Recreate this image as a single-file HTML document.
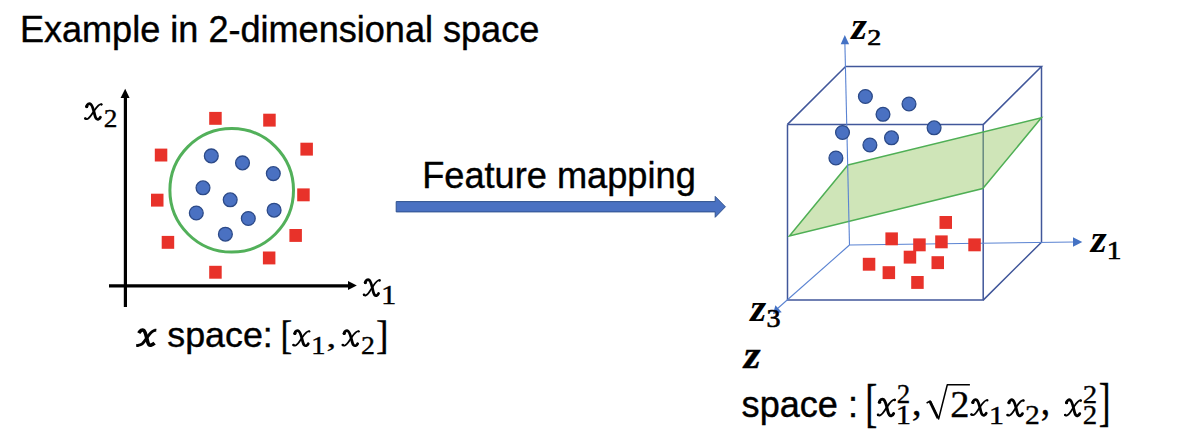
<!DOCTYPE html>
<html><head><meta charset="utf-8">
<style>
html,body{margin:0;padding:0;background:#fff;width:1194px;height:438px;overflow:hidden}
svg{position:absolute;left:0;top:0}
.s{font-family:"Liberation Sans",sans-serif}
.m{font-family:"Liberation Serif",serif}
</style></head><body>
<svg width="1194" height="438" viewBox="0 0 1194 438">
<text class="s" x="19.9" y="42.2" font-size="36.1" fill="#000" stroke="#000" stroke-width="0.4">Example in 2-dimensional space</text>

<line x1="125.4" y1="96" x2="125.4" y2="307" stroke="#000" stroke-width="3.2"/>
<polygon points="125.2,88.8 120.6,97.9 129.6,97.9" fill="#000"/>
<line x1="109" y1="285.9" x2="350" y2="285.9" stroke="#000" stroke-width="3.2"/>
<polygon points="356.8,285.6 348,281.1 348,290.1" fill="#000"/>

<circle cx="231.7" cy="190.3" r="61.8" fill="none" stroke="#52B05A" stroke-width="3"/>
<g fill="#E8322A">
<rect x="209.2" y="111.9" width="12.5" height="12.9"/>
<rect x="154.8" y="148.6" width="12.5" height="12.9"/>
<rect x="263.2" y="113.7" width="12.5" height="12.9"/>
<rect x="300.4" y="142.7" width="12.5" height="12.9"/>
<rect x="297.2" y="188.4" width="12.5" height="12.9"/>
<rect x="151.0" y="193.7" width="12.5" height="12.9"/>
<rect x="161.7" y="235.9" width="12.5" height="12.9"/>
<rect x="209.2" y="265.8" width="12.5" height="12.9"/>
<rect x="289.4" y="229.0" width="12.5" height="12.9"/>
<rect x="262.9" y="251.5" width="12.5" height="12.9"/>
</g>
<g fill="#4A71C2" stroke="#2C4A88" stroke-width="1.3">
<circle cx="211.3" cy="155.9" r="6.9"/>
<circle cx="242.5" cy="162.9" r="6.9"/>
<circle cx="273.3" cy="173.6" r="6.9"/>
<circle cx="203.0" cy="187.8" r="6.9"/>
<circle cx="230.2" cy="199.8" r="6.9"/>
<circle cx="196.3" cy="213.0" r="6.9"/>
<circle cx="225.4" cy="234.2" r="6.9"/>
<circle cx="248.3" cy="218.5" r="6.9"/>
<circle cx="274.1" cy="210.2" r="6.9"/>
</g>

<text class="s" x="167.3" y="346.8" font-size="35.8" stroke="#000" stroke-width="0.4">space:</text>

<text class="s" x="422.2" y="188.1" font-size="36.2" stroke="#000" stroke-width="0.4">Feature mapping</text>
<polygon points="396.2,201.6 715.2,201.6 715.2,196.4 725.4,206.8 715.2,217.3 715.2,211.9 396.2,211.9" fill="#4A71C2" stroke="#2F528F" stroke-width="1"/>

<g fill="none" stroke="#41579A" stroke-width="1.5">
<polyline points="787.5,124.4 983.2,124.6 983.2,300.1 787.5,300.1 787.5,124.4"/>
<polyline points="787.5,124.4 845.6,66.5 1041.5,66.5 983.2,124.6"/>
<polyline points="1041.5,66.5 1041.5,242.2 983.2,300.1"/>
</g>
<polygon points="847.9,164.9 1041.4,117.8 982.8,188.6 789.4,236.1" fill="rgb(148,197,97)" fill-opacity="0.45" stroke="#4FAF55" stroke-width="1.5"/>
<g stroke="#5A83D2" stroke-width="1.1" fill="none">
<line x1="844.9" y1="44" x2="849.5" y2="245"/>
<line x1="849.5" y1="245" x2="1074" y2="242"/>
<line x1="849.5" y1="245" x2="777" y2="309"/>
</g>
<polygon points="844.8,35.0 840.7,44.3 849.1,44.3" fill="#4472C4"/>
<polygon points="1082.3,242 1073,237.2 1073,246.8" fill="#4472C4"/>
<polygon points="773,314 775.4,305.2 781.7,312.2" fill="#4472C4"/>

<g fill="#4A71C2" stroke="#2C4A88" stroke-width="1.3">
<circle cx="865.4" cy="96.5" r="6.9"/>
<circle cx="883.0" cy="114.3" r="6.9"/>
<circle cx="909.0" cy="104.0" r="6.9"/>
<circle cx="842.5" cy="132.5" r="6.9"/>
<circle cx="934.1" cy="127.8" r="6.9"/>
<circle cx="891.5" cy="137.8" r="6.9"/>
<circle cx="869.9" cy="145.0" r="6.9"/>
<circle cx="835.9" cy="158.0" r="6.9"/>
</g>
<g fill="#E8322A">
<rect x="939.5" y="216.0" width="12.5" height="12.9"/>
<rect x="885.4" y="232.4" width="12.5" height="12.9"/>
<rect x="913.2" y="238.4" width="12.5" height="12.9"/>
<rect x="935.2" y="235.4" width="12.5" height="12.9"/>
<rect x="968.3" y="238.4" width="12.5" height="12.9"/>
<rect x="903.7" y="250.7" width="12.5" height="12.9"/>
<rect x="931.5" y="256.2" width="12.5" height="12.9"/>
<rect x="862.8" y="257.8" width="12.5" height="12.9"/>
<rect x="882.6" y="266.2" width="12.5" height="12.9"/>
<rect x="911.2" y="276.0" width="12.5" height="12.9"/>
</g>

<text class="s" x="741.6" y="416.8" font-size="36.1" stroke="#000" stroke-width="0.4">space :</text>
<path d="M926.6,403.0 L930.3,401.0 L938.6,419.0 L947.3,384.7 L969.9,384.7" fill="none" stroke="#000" stroke-width="1.5" stroke-linejoin="round"/><path d="M930.0,401.6 L938.0,418.2" fill="none" stroke="#000" stroke-width="2.8"/>

<g transform="matrix(1.01928 0 0 0.98919 81.042 99.235)" fill="none" stroke="#000" stroke-linecap="round"><path d="M5.5,7.4 C5.9,5.0 8.1,3.9 9.6,5.1 C11.4,6.6 12.6,12 13.6,16.5 C14.3,19.4 15.5,20.7 17.0,20.2 C18.0,19.9 18.7,18.9 19.0,18.2" stroke-width="2.8"/><path d="M20.2,5.1 C18.3,4.5 16.2,6.8 13.2,11.2 C10.5,15.2 8.4,19.7 5.8,20.1 C4.9,20.2 4.3,19.9 3.9,19.4" stroke-width="1.8"/><circle cx="5.6" cy="7.4" r="1.6" fill="#000" stroke="none"/><circle cx="20.0" cy="5.4" r="1.15" fill="#000" stroke="none"/><circle cx="4.3" cy="19.5" r="1.25" fill="#000" stroke="none"/></g>
<text class="m"  font-size="200" stroke="#000" stroke-width="2.67" transform="matrix(0.13688 0 0 0.12538 103.743 127.325)">2</text>
<g transform="matrix(0.98623 0 0 1.01622 359.841 275.048)" fill="none" stroke="#000" stroke-linecap="round"><path d="M5.5,7.4 C5.9,5.0 8.1,3.9 9.6,5.1 C11.4,6.6 12.6,12 13.6,16.5 C14.3,19.4 15.5,20.7 17.0,20.2 C18.0,19.9 18.7,18.9 19.0,18.2" stroke-width="2.8"/><path d="M20.2,5.1 C18.3,4.5 16.2,6.8 13.2,11.2 C10.5,15.2 8.4,19.7 5.8,20.1 C4.9,20.2 4.3,19.9 3.9,19.4" stroke-width="1.8"/><circle cx="5.6" cy="7.4" r="1.6" fill="#000" stroke="none"/><circle cx="20.0" cy="5.4" r="1.15" fill="#000" stroke="none"/><circle cx="4.3" cy="19.5" r="1.25" fill="#000" stroke="none"/></g>
<text class="m"  font-size="200" stroke="#000" stroke-width="2.45" transform="matrix(0.15357 0 0 0.13168 381.111 303.725)">1</text>
<g transform="matrix(0.99015 0 0 0.98429 133.033 325.444)" fill="none" stroke="#000"><path d="M5.8,7.8 C7.2,5.2 9.3,3.9 10.9,5.0 C12.6,6.4 13.6,12 14.8,16.5 C15.5,19.2 16.6,20.4 18.0,20.1 C19.3,19.8 20.6,19.0 21.8,18.0" stroke-width="3.6"/><path d="M23.2,5.0 C20.8,4.6 18.5,6.5 16.2,9.5 C13.5,13.0 11.4,16.8 9.2,18.7 C7.5,20.1 5.5,20.0 3.6,20.4" stroke-width="2.9"/><path d="M21.6,3.4 L23.6,3.4 L23.3,7.0 Z" fill="#000" stroke="none"/><path d="M3.3,18.6 L3.3,22.0 L6.0,21.6 Z" fill="#000" stroke="none"/></g>
<text class="m"  font-size="200" stroke="#000" stroke-width="1.84" transform="matrix(0.17614 0 0 0.20333 280.533 349.235)">[</text>
<g transform="matrix(0.99725 0 0 0.95676 289.308 326.338)" fill="none" stroke="#000" stroke-linecap="round"><path d="M5.5,7.4 C5.9,5.0 8.1,3.9 9.6,5.1 C11.4,6.6 12.6,12 13.6,16.5 C14.3,19.4 15.5,20.7 17.0,20.2 C18.0,19.9 18.7,18.9 19.0,18.2" stroke-width="2.8"/><path d="M20.2,5.1 C18.3,4.5 16.2,6.8 13.2,11.2 C10.5,15.2 8.4,19.7 5.8,20.1 C4.9,20.2 4.3,19.9 3.9,19.4" stroke-width="1.8"/><circle cx="5.6" cy="7.4" r="1.6" fill="#000" stroke="none"/><circle cx="20.0" cy="5.4" r="1.15" fill="#000" stroke="none"/><circle cx="4.3" cy="19.5" r="1.25" fill="#000" stroke="none"/></g>
<text class="m"  font-size="200" stroke="#000" stroke-width="2.57" transform="matrix(0.14643 0 0 0.12634 311.039 353.825)">1</text>
<text class="m"  font-size="200" stroke="#000" stroke-width="2.15" transform="matrix(0.19138 0 0 0.13431 326.544 347.296)">,</text>
<g transform="matrix(1.00275 0 0 0.95676 338.592 326.338)" fill="none" stroke="#000" stroke-linecap="round"><path d="M5.5,7.4 C5.9,5.0 8.1,3.9 9.6,5.1 C11.4,6.6 12.6,12 13.6,16.5 C14.3,19.4 15.5,20.7 17.0,20.2 C18.0,19.9 18.7,18.9 19.0,18.2" stroke-width="2.8"/><path d="M20.2,5.1 C18.3,4.5 16.2,6.8 13.2,11.2 C10.5,15.2 8.4,19.7 5.8,20.1 C4.9,20.2 4.3,19.9 3.9,19.4" stroke-width="1.8"/><circle cx="5.6" cy="7.4" r="1.6" fill="#000" stroke="none"/><circle cx="20.0" cy="5.4" r="1.15" fill="#000" stroke="none"/><circle cx="4.3" cy="19.5" r="1.25" fill="#000" stroke="none"/></g>
<text class="m"  font-size="200" stroke="#000" stroke-width="2.63" transform="matrix(0.13937 0 0 0.12689 361.021 354.025)">2</text>
<text class="m"  font-size="200" stroke="#000" stroke-width="1.79" transform="matrix(0.18778 0 0 0.20333 376.061 349.235)">]</text>
<text class="m" font-style="italic" font-weight="bold" font-size="200" stroke="#000" stroke-width="0.00" transform="matrix(0.20181 0 0 0.19130 851.161 38.800)">z</text>
<text class="m"  font-size="200" stroke="#000" stroke-width="5.42" transform="matrix(0.14000 0 0 0.11818 867.290 45.350)">2</text>
<text class="m" font-style="italic" font-weight="bold" font-size="200" stroke="#000" stroke-width="0.00" transform="matrix(0.20482 0 0 0.19022 1090.629 252.000)">z</text>
<text class="m"  font-size="200" stroke="#000" stroke-width="5.16" transform="matrix(0.14714 0 0 0.12443 1106.701 258.650)">1</text>
<text class="m" font-style="italic" font-weight="bold" font-size="200" stroke="#000" stroke-width="0.00" transform="matrix(0.20482 0 0 0.19348 750.329 321.200)">z</text>
<text class="m"  font-size="200" stroke="#000" stroke-width="5.23" transform="matrix(0.14024 0 0 0.12761 766.548 327.495)">3</text>
<text class="m" font-style="italic" font-weight="bold" font-size="200" stroke="#000" stroke-width="1.71" transform="matrix(0.21627 0 0 0.19293 743.673 367.725)">z</text>
<text class="m"  font-size="200" stroke="#000" stroke-width="1.56" transform="matrix(0.18068 0 0 0.26697 865.365 420.517)">[</text>
<g transform="matrix(1.05234 0 0 1.05405 873.643 394.327)" fill="none" stroke="#000" stroke-linecap="round"><path d="M5.5,7.4 C5.9,5.0 8.1,3.9 9.6,5.1 C11.4,6.6 12.6,12 13.6,16.5 C14.3,19.4 15.5,20.7 17.0,20.2 C18.0,19.9 18.7,18.9 19.0,18.2" stroke-width="2.8"/><path d="M20.2,5.1 C18.3,4.5 16.2,6.8 13.2,11.2 C10.5,15.2 8.4,19.7 5.8,20.1 C4.9,20.2 4.3,19.9 3.9,19.4" stroke-width="1.8"/><circle cx="5.6" cy="7.4" r="1.6" fill="#000" stroke="none"/><circle cx="20.0" cy="5.4" r="1.15" fill="#000" stroke="none"/><circle cx="4.3" cy="19.5" r="1.25" fill="#000" stroke="none"/></g>
<text class="m"  font-size="200" stroke="#000" stroke-width="2.63" transform="matrix(0.13438 0 0 0.13144 896.766 403.125)">2</text>
<text class="m"  font-size="200" stroke="#000" stroke-width="2.45" transform="matrix(0.15357 0 0 0.13168 895.811 424.425)">1</text>
<text class="m"  font-size="200" stroke="#000" stroke-width="1.79" transform="matrix(0.19828 0 0 0.19314 911.789 414.931)">,</text>
<text class="m"  font-size="200" stroke="#000" stroke-width="1.82" transform="matrix(0.19188 0 0 0.19356 950.248 416.525)">2</text>
<g transform="matrix(0.99725 0 0 1.00000 967.308 395.000)" fill="none" stroke="#000" stroke-linecap="round"><path d="M5.5,7.4 C5.9,5.0 8.1,3.9 9.6,5.1 C11.4,6.6 12.6,12 13.6,16.5 C14.3,19.4 15.5,20.7 17.0,20.2 C18.0,19.9 18.7,18.9 19.0,18.2" stroke-width="2.8"/><path d="M20.2,5.1 C18.3,4.5 16.2,6.8 13.2,11.2 C10.5,15.2 8.4,19.7 5.8,20.1 C4.9,20.2 4.3,19.9 3.9,19.4" stroke-width="1.8"/><circle cx="5.6" cy="7.4" r="1.6" fill="#000" stroke="none"/><circle cx="20.0" cy="5.4" r="1.15" fill="#000" stroke="none"/><circle cx="4.3" cy="19.5" r="1.25" fill="#000" stroke="none"/></g>
<text class="m"  font-size="200" stroke="#000" stroke-width="2.46" transform="matrix(0.15357 0 0 0.13092 988.711 424.125)">1</text>
<g transform="matrix(1.00275 0 0 1.01622 1003.392 395.148)" fill="none" stroke="#000" stroke-linecap="round"><path d="M5.5,7.4 C5.9,5.0 8.1,3.9 9.6,5.1 C11.4,6.6 12.6,12 13.6,16.5 C14.3,19.4 15.5,20.7 17.0,20.2 C18.0,19.9 18.7,18.9 19.0,18.2" stroke-width="2.8"/><path d="M20.2,5.1 C18.3,4.5 16.2,6.8 13.2,11.2 C10.5,15.2 8.4,19.7 5.8,20.1 C4.9,20.2 4.3,19.9 3.9,19.4" stroke-width="1.8"/><circle cx="5.6" cy="7.4" r="1.6" fill="#000" stroke="none"/><circle cx="20.0" cy="5.4" r="1.15" fill="#000" stroke="none"/><circle cx="4.3" cy="19.5" r="1.25" fill="#000" stroke="none"/></g>
<text class="m"  font-size="200" stroke="#000" stroke-width="2.47" transform="matrix(0.14813 0 0 0.13523 1025.042 424.425)">2</text>
<text class="m"  font-size="200" stroke="#000" stroke-width="1.77" transform="matrix(0.18793 0 0 0.20686 1040.872 414.419)">,</text>
<g transform="matrix(0.98623 0 0 1.01622 1061.041 395.148)" fill="none" stroke="#000" stroke-linecap="round"><path d="M5.5,7.4 C5.9,5.0 8.1,3.9 9.6,5.1 C11.4,6.6 12.6,12 13.6,16.5 C14.3,19.4 15.5,20.7 17.0,20.2 C18.0,19.9 18.7,18.9 19.0,18.2" stroke-width="2.8"/><path d="M20.2,5.1 C18.3,4.5 16.2,6.8 13.2,11.2 C10.5,15.2 8.4,19.7 5.8,20.1 C4.9,20.2 4.3,19.9 3.9,19.4" stroke-width="1.8"/><circle cx="5.6" cy="7.4" r="1.6" fill="#000" stroke="none"/><circle cx="20.0" cy="5.4" r="1.15" fill="#000" stroke="none"/><circle cx="4.3" cy="19.5" r="1.25" fill="#000" stroke="none"/></g>
<text class="m"  font-size="200" stroke="#000" stroke-width="2.57" transform="matrix(0.14438 0 0 0.12841 1082.676 402.725)">2</text>
<text class="m"  font-size="200" stroke="#000" stroke-width="2.50" transform="matrix(0.14438 0 0 0.13523 1082.676 424.425)">2</text>
<text class="m"  font-size="200" stroke="#000" stroke-width="1.58" transform="matrix(0.17667 0 0 0.26515 1098.738 420.466)">]</text>
</svg>
</body></html>
